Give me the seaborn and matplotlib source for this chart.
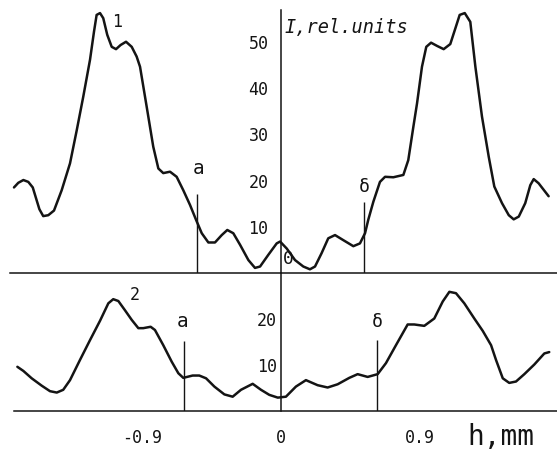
import numpy as np
import pandas as pd
import matplotlib
matplotlib.use("Agg")
import matplotlib.pyplot as plt
import seaborn as sns

# curve 1 (upper panel): position h, mm / intensity, rel. units
h1 = [-1.735, -1.707, -1.674, -1.642, -1.613, -1.592, -1.570, -1.545, -1.512, -1.475,
      -1.425, -1.371, -1.327, -1.285, -1.241, -1.215, -1.198, -1.176, -1.155, -1.129,
      -1.100, -1.072, -1.042, -1.007, -0.970, -0.938, -0.916, -0.873, -0.830, -0.797,
      -0.765, -0.721, -0.678, -0.635, -0.591, -0.552, -0.515, -0.472, -0.429, -0.385,
      -0.349, -0.310, -0.266, -0.212, -0.169, -0.136, -0.083, -0.028, -0.006, 0.037,
      0.091, 0.145, 0.188, 0.221, 0.264, 0.307, 0.351, 0.405, 0.470, 0.513,
      0.546, 0.567, 0.600, 0.643, 0.676, 0.730, 0.795, 0.827, 0.860, 0.884,
      0.916, 0.944, 0.975, 1.014, 1.057, 1.100, 1.133, 1.161, 1.194, 1.230,
      1.263, 1.306, 1.350, 1.386, 1.436, 1.480, 1.512, 1.545, 1.587, 1.620,
      1.642, 1.674, 1.739]
i1 = [18.5, 19.5, 20.1, 19.7, 18.5, 16.2, 13.8, 12.3, 12.5, 13.5,
      17.9, 23.7, 30.9, 38.1, 46.1, 52.2, 55.8, 56.2, 55.1, 51.5,
      48.9, 48.4, 49.3, 50.0, 48.9, 46.8, 44.6, 36.0, 27.3, 22.6,
      21.6, 21.9, 20.8, 17.9, 14.7, 11.5, 8.6, 6.6, 6.6, 8.2,
      9.3, 8.6, 6.1, 2.8, 1.1, 1.4, 3.9, 6.4, 6.8, 5.3,
      2.8, 1.4, 0.8, 1.4, 4.3, 7.5, 8.2, 7.1, 5.8, 6.4,
      8.6, 11.5, 15.4, 19.7, 20.8, 20.7, 21.2, 24.4, 31.6, 36.7,
      44.6, 48.9, 49.8, 49.1, 48.4, 49.5, 52.9, 55.8, 56.2, 54.3,
      44.6, 33.8, 25.1, 18.7, 15.1, 12.5, 11.6, 12.2, 15.1, 19.0,
      20.3, 19.4, 16.6]

# curve 2 (lower panel)
h2 = [-1.713, -1.674, -1.620, -1.555, -1.501, -1.457, -1.415, -1.371, -1.306, -1.241,
      -1.176, -1.122, -1.090, -1.057, -1.014, -0.970, -0.927, -0.895, -0.847, -0.819,
      -0.765, -0.710, -0.667, -0.635, -0.574, -0.531, -0.487, -0.433, -0.368, -0.314,
      -0.260, -0.184, -0.130, -0.076, -0.021, 0.032, 0.097, 0.162, 0.238, 0.303,
      0.368, 0.444, 0.498, 0.563, 0.628, 0.682, 0.747, 0.823, 0.866, 0.931,
      0.996, 1.051, 1.094, 1.137, 1.191, 1.256, 1.311, 1.365, 1.397, 1.441,
      1.483, 1.527, 1.581, 1.646, 1.711, 1.743]
i2 = [9.5, 8.6, 7.0, 5.4, 4.2, 3.9, 4.5, 6.6, 11.0, 15.3,
      19.5, 23.3, 24.2, 23.8, 21.8, 19.7, 17.9, 17.9, 18.2, 17.5,
      14.2, 10.6, 8.1, 7.1, 7.6, 7.6, 7.0, 5.2, 3.5, 3.0,
      4.5, 5.8, 4.5, 3.4, 2.8, 3.0, 5.2, 6.6, 5.5, 5.0,
      5.7, 7.1, 7.9, 7.3, 7.9, 10.3, 14.2, 18.7, 18.7, 18.4,
      20.0, 23.7, 25.8, 25.5, 23.3, 20.0, 17.3, 14.2, 11.0, 7.0,
      6.0, 6.3, 7.9, 10.0, 12.4, 12.7]

# boundary markers a / δ : position and height
mark_names = ["a", "δ"]
mark_h1 = [-0.546, 0.540]
mark_top1 = [17.1, 15.4]
mark_h2 = [-0.630, 0.624]
mark_top2 = [15.1, 15.3]

yticks1 = [10, 20, 30, 40, 50]
yticks2 = [10, 20]
xticks = [-0.9, 0, 0.9]
xticklabels = ["-0.9", "0", "0.9"]

sns.set_style("white")
plt.rcParams['font.family'] = ['DejaVu Sans Mono', 'DejaVu Sans']

ink = "#141414"
W, H = 557, 450
fig = plt.figure(figsize=(W / 100, H / 100), dpi=100)

px_per_mm = 153.9
x0 = 281
ax1 = fig.add_axes([10 / W, (H - 273) / H, 547 / W, 263 / H])
ax2 = fig.add_axes([14 / W, (H - 410.5) / H, 543 / W, 137.5 / H])
ax1.set_xlim((10 - x0) / px_per_mm, (557 - x0) / px_per_mm)
ax2.set_xlim((14 - x0) / px_per_mm, (557 - x0) / px_per_mm)
ax1.set_ylim(0, 263 / 4.625)
ax2.set_ylim(0, 137.5 / 4.6)

df1 = pd.DataFrame({"h": h1, "I": i1})
df2 = pd.DataFrame({"h": h2, "I": i2})
sns.lineplot(data=df1, x="h", y="I", ax=ax1, color=ink, lw=1.8, sort=False,
             solid_joinstyle="round", solid_capstyle="round")
sns.lineplot(data=df2, x="h", y="I", ax=ax2, color=ink, lw=1.8, sort=False,
             solid_joinstyle="round", solid_capstyle="round")

for ax, mh, mt in [(ax1, mark_h1, mark_top1), (ax2, mark_h2, mark_top2)]:
    ax.vlines(mh, 0, mt, color=ink, lw=1.0)
    for s in ["top", "right"]:
        ax.spines[s].set_visible(False)
    ax.spines["left"].set_position(("data", 0))
    for s in ["left", "bottom"]:
        ax.spines[s].set_color(ink)
        ax.spines[s].set_linewidth(1.1)
    ax.set_xlabel("")
    ax.set_ylabel("")
    ax.patch.set_alpha(0)

ax1.set_yticks(yticks1)
ax1.set_xticks([])
ax1.tick_params(axis="y", direction="in", length=6.5, width=1, pad=9,
                labelsize=12, colors=ink)
ax2.set_yticks(yticks2)
ax2.tick_params(axis="y", direction="in", length=8, width=1, pad=3,
                labelsize=12, colors=ink)
ax2.set_xticks(xticks)
ax2.set_xticklabels(xticklabels)
ax2.tick_params(axis="x", direction="in", length=8, width=1, pad=13,
                labelsize=12, colors=ink)
ax2.xaxis.get_major_ticks()[1].tick1line.set_visible(False)

# annotations
ax1.text(-1.066, 54.3, "1", ha="center", va="center", fontsize=12, color=ink)
ax2.text(-0.949, 25.1, "2", ha="center", va="center", fontsize=12, color=ink)
ax1.text(-0.533, 22.7, mark_names[0], ha="center", va="center", fontsize=14, color=ink)
ax1.text(0.539, 18.6, mark_names[1], ha="center", va="center", fontsize=13, color=ink)
ax2.text(-0.637, 19.3, mark_names[0], ha="center", va="center", fontsize=14, color=ink)
ax2.text(0.624, 19.3, mark_names[1], ha="center", va="center", fontsize=13, color=ink)
ax1.text(0.045, 3.0, "0", ha="center", va="center", fontsize=13, color=ink)
ax1.text(0.02, 53.0, "I,rel.units", ha="left", va="center", fontsize=13.4,
         style="italic", color=ink)
ax2.text(1.43, -5.7, "h,mm", ha="center", va="center", fontsize=20, color=ink,
         clip_on=False)

fig.savefig("out.png", dpi=100, facecolor="white")
